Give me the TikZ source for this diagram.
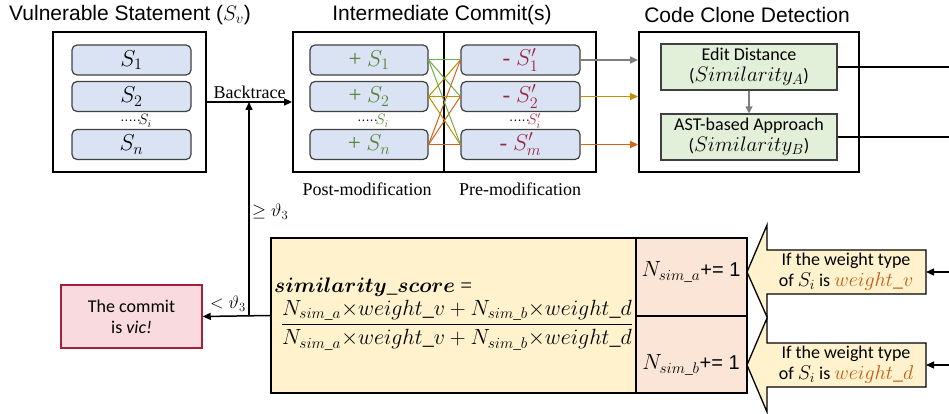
\RequirePackage{fix-cm}
\documentclass[tikz,border=0pt]{standalone}
\usepackage{amsmath,bm}
\usepackage[no-math]{fontspec}
\setmainfont{Liberation Serif}
\newfontfamily\arialf{Liberation Sans}
\newfontfamily\calib{Carlito}
\usetikzlibrary{arrows.meta}
\definecolor{boxblue}{HTML}{DAE3F3}
\definecolor{boxgreen}{HTML}{E2F0D9}
\definecolor{boxyellow}{HTML}{FFF2CC}
\definecolor{boxpink}{HTML}{FBE5D6}
\definecolor{boxred}{HTML}{F9DADF}
\definecolor{darkred}{HTML}{A5203A}
\definecolor{txtgreen}{HTML}{548235}
\definecolor{txtred}{HTML}{9C2343}
\definecolor{txtorange}{HTML}{C55A11}
\definecolor{lngray}{HTML}{7F7F7F}
\definecolor{lngold}{HTML}{BF9000}
\definecolor{lnorange}{HTML}{D06418}
\definecolor{lngreen}{HTML}{70AD47}
\newcommand{\mymath}[1]{{\fontsize{21}{24}\selectfont$#1$}}
\newcommand{\calmath}[1]{{\fontsize{20}{22}\selectfont$#1$}}
\newcommand{\fivedots}{${\cdot}{\cdot}{\cdot}{\cdot}{\cdot}$}
\begin{document}
\begin{tikzpicture}[x=1pt,y=-1pt,
  title/.style={font=\arialf\fontsize{21}{25}\selectfont, inner sep=0pt},
  outer/.style={draw=black, line width=1.8pt, inner sep=0pt},
  sbox/.style={draw=black!75, fill=boxblue, rounded corners=5pt, line width=1.2pt,
    minimum width=119pt, minimum height=30pt, inner sep=0pt, font=\fontsize{23}{26}\selectfont},
  gbox/.style={draw=black!75, fill=boxgreen, line width=1.2pt, minimum width=176pt,
    minimum height=46pt, align=center, inner sep=0pt, font=\calib\fontsize{18}{21}\selectfont},
  arr/.style={line width=1.5pt, -{Triangle[length=8pt,width=7pt]}},
  plain/.style={line width=1.5pt},
  cross/.style={line width=1pt},
  serif/.style={font=\fontsize{18}{21}\selectfont, inner sep=1pt},
  calibtext/.style={font=\calib\fontsize{18}{21}\selectfont, align=center, inner sep=0pt},
  callout/.style={draw=black, fill=boxyellow, line width=1.3pt},
  dots/.style={font=\fontsize{15}{16}\selectfont, inner sep=0pt}
]
\useasboundingbox (0,0) rectangle (949,414);

% titles
\node[title] (t1) at (130,15) {Vulnerable Statement ($S_v$)};
\node[title] (t2) at (442,15) {Intermediate Commit(s)};
\node[title] (t3) at (747,15) {Code Clone Detection};

% outer boxes
\node[outer, minimum width=153pt, minimum height=140pt] (vs) at (129.5,102) {};
\node[outer, minimum width=151pt, minimum height=140pt] (post) at (368.5,102) {};
\node[outer, minimum width=152pt, minimum height=140pt] (pre) at (520,102) {};
\node[outer, minimum width=220pt, minimum height=140pt] (ccd) at (749,102) {};

% vulnerable statements
\node[sbox] (v1) at (131.5,60) {$S_1$};
\node[sbox] (v2) at (131.5,96.5) {$S_2$};
\node[sbox] (v3) at (131.5,144.5) {$S_n$};
\node[dots] (vd) at (136,125) {\smash{\fivedots$\!S_i$}};

% post-modification
\node[sbox, minimum width=118pt, text=txtgreen] (L1) at (369,60) {+ $S_1$};
\node[sbox, minimum width=118pt, text=txtgreen] (L2) at (369,96.5) {+ $S_2$};
\node[sbox, minimum width=118pt, text=txtgreen] (L3) at (369,144.5) {+ $S_n$};
\node[dots] (Ld) at (373,125) {\smash{\fivedots$\!{\color{txtgreen}S_i}$}};

% pre-modification
\node[sbox, text=txtred] (R1) at (520.5,60) {- $S'_1$};
\node[sbox, text=txtred] (R2) at (520.5,96.5) {- $S'_2$};
\node[sbox, text=txtred] (R3) at (520.5,144.5) {- $S'_m$};
\node[dots] (Rd) at (525,125) {\smash{\fivedots$\!{\color{txtred}S'_i}$}};

\node[serif] (postl) at (367,189) {Post-modification};
\node[serif] (prel) at (520,189) {Pre-modification};

% crossing lines
\foreach \b in {1,2,3} {
  \draw[cross, draw=lngreen] (L1.east) -- (R\b.west);
  \draw[cross, draw=lngold] (L2.east) -- (R\b.west);
  \draw[cross, draw=lnorange] (L3.east) -- (R\b.west);
}

% code clone detection
\node[gbox] (ed) at (749,67) {Edit Distance\\(\mymath{Similarity_A})};
\node[gbox] (ast) at (749,137) {AST-based Approach\\(\mymath{Similarity_B})};
\draw[line width=1.3pt, draw=lngray, -{Triangle[length=7pt,width=7pt]}] (ed) -- (ast);

% arrows into ccd
\draw[arr, draw=lngray, color=lngray] (R1.east) -- (R1.east -| ccd.west);
\draw[arr, draw=lngold, color=lngold] (R2.east) -- (R2.east -| ccd.west);
\draw[arr, draw=lnorange, color=lnorange] (R3.east) -- (R3.east -| ccd.west);

% lines leaving right
\coordinate (edR) at (949,67);
\coordinate (astR) at (949,137);
\draw[plain] (ed.east) -- (edR);
\draw[plain] (ast.east) -- (astR);

% backtrace
\draw[arr] (vs.east) -- (post.west) node[serif, midway, above=2pt] (btl) {Backtrace};
\coordinate (bt) at (249,102);

% bottom formula box
\node[draw=black, line width=1.3pt, fill=boxyellow, minimum width=365pt, minimum height=155pt, inner sep=0pt] (yb) at (453.5,315.5) {};
\node[draw=black, line width=1.3pt, fill=boxpink, minimum width=111pt, minimum height=78pt, inner sep=0pt] (pa) at (691.5,277) {};
\node[draw=black, line width=1.3pt, fill=boxpink, minimum width=111pt, minimum height=77pt, inner sep=0pt] (pb) at (691.5,354.5) {};
\node[font=\fontsize{22}{24}\selectfont, inner sep=0pt] (pat) at (691,272) {$N_{sim\_a}$\arialf\fontsize{20}{24}\selectfont+= 1};
\node[font=\fontsize{22}{24}\selectfont, inner sep=0pt] (pbt) at (691,365) {$N_{sim\_b}$\arialf\fontsize{20}{24}\selectfont+= 1};

\node[anchor=west, font=\fontsize{21}{24}\selectfont, inner sep=0pt] (fs) at (274,287) {$\bm{similarity\_score}$ =};
\node[font=\fontsize{22}{25}\selectfont, inner sep=0pt] (frac) at (457,325) {$\dfrac{N_{sim\_a}{\times} weight\_v + N_{sim\_b}{\times} weight\_d}{N_{sim\_a}{\times} weight\_v + N_{sim\_b}{\times} weight\_d}$};

% callouts
\draw[callout] (747,272) -- (767,225) -- (767,250) -- (926,250) -- (926,294) -- (767,294) -- (767,317) -- cycle;
\draw[callout] (747,365) -- (767,318) -- (767,343) -- (926,343) -- (926,387) -- (767,387) -- (767,412) -- cycle;
\node[calibtext] (c1t) at (846,272) {If the weight type\\of \calmath{S_i} is {\color{txtorange}\calmath{weight\_v}}};
\node[calibtext] (c2t) at (846,365) {If the weight type\\of \calmath{S_i} is {\color{txtorange}\calmath{weight\_d}}};
\coordinate (c1) at (926,272);
\coordinate (c2) at (926,365);
\coordinate (in1) at (949,272);
\coordinate (in2) at (949,365);
\draw[arr] (in1) -- (c1);
\draw[arr] (in2) -- (c2);

% result
\node[draw=darkred, line width=1.5pt, fill=boxred, minimum width=141pt, minimum height=63pt, calibtext] (vic) at (131.5,316.5) {The commit\\is \textit{vic!}};
\coordinate (jn) at (249,315.5);
\draw[arr] (yb.west) -- (vic.east);
\draw[arr] (jn) -- (bt);
\node[anchor=west, font=\fontsize{18}{20}\selectfont, inner sep=0pt] (ge) at (252,212) {$\geq \vartheta_3$};
\node[anchor=east, font=\fontsize{18}{20}\selectfont, inner sep=0pt] (lt) at (246,304) {$< \vartheta_3$};
\end{tikzpicture}
\end{document}
